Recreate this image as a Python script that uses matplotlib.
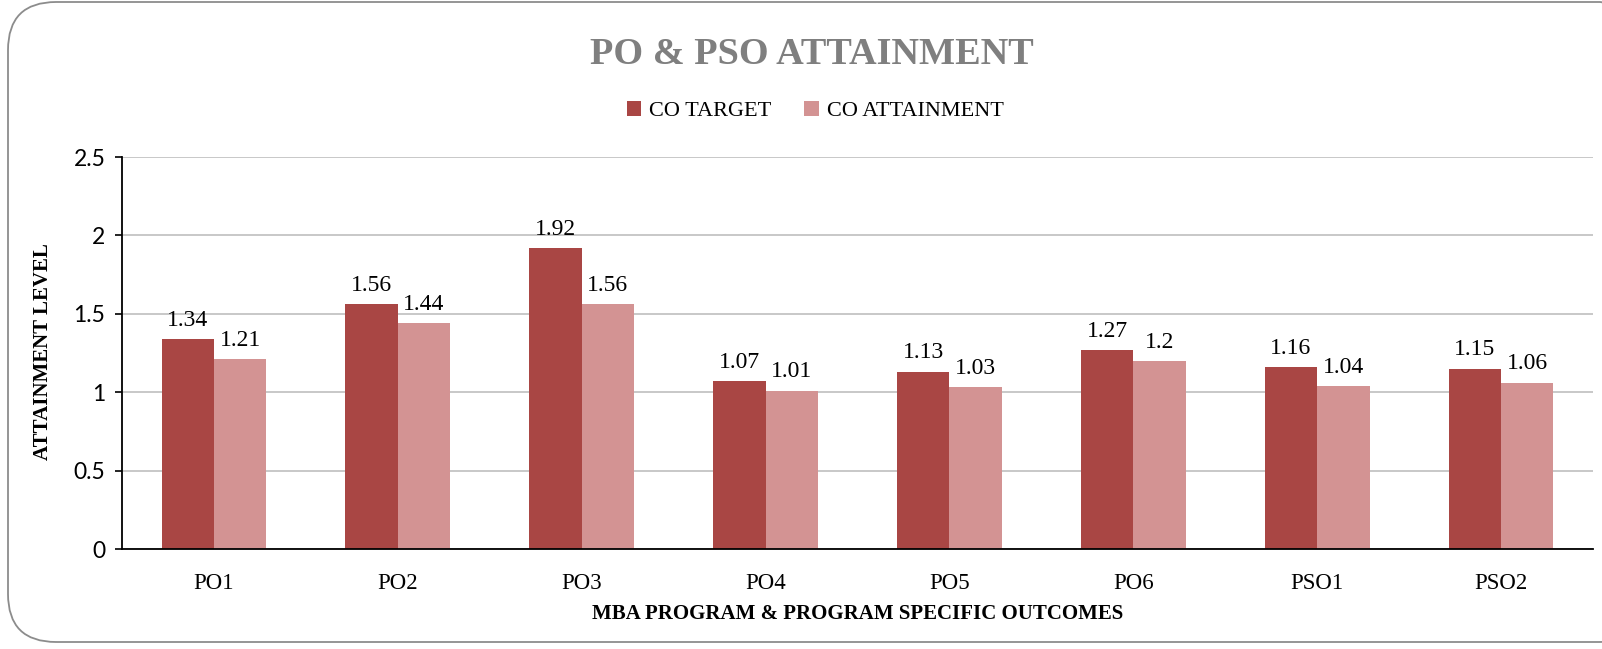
import matplotlib
matplotlib.use("Agg")
import matplotlib.pyplot as plt
from matplotlib.patches import FancyBboxPatch, Patch
import numpy as np

categories = ["PO1", "PO2", "PO3", "PO4", "PO5", "PO6", "PSO1", "PSO2"]
co_target = [1.34, 1.56, 1.92, 1.07, 1.13, 1.27, 1.16, 1.15]
co_attainment = [1.21, 1.44, 1.56, 1.01, 1.03, 1.2, 1.04, 1.06]
series_names = ["CO TARGET", "CO ATTAINMENT"]
yticks = [0, 0.5, 1, 1.5, 2, 2.5]
ytick_labels = ["0", "0.5", "1", "1.5", "2", "2.5"]

c_dark = "#A94644"
c_light = "#D39393"
serif = ["Liberation Serif", "DejaVu Serif"]
sans = ["Lato", "DejaVu Sans"]

W, H = 1602, 649
fig = plt.figure(figsize=(W / 100, H / 100), dpi=100)

# rounded chart border
border = FancyBboxPatch((8 / W, 7 / H), 1640 / W, 640 / H,
                        boxstyle="round,pad=0,rounding_size=0.03",
                        transform=fig.transFigure, fill=False,
                        edgecolor="#8C8C8C", linewidth=1.3,
                        mutation_aspect=W / H)
fig.patches.append(border)

ax = fig.add_axes([122 / W, 1 - 549 / H, (1593 - 122) / W, (549 - 157) / H])

x = np.arange(len(categories))
bw = 0.285
b1 = ax.bar(x - bw / 2, co_target, bw, color=c_dark, edgecolor="none", zorder=3)
b2 = ax.bar(x + bw / 2, co_attainment, bw, color=c_light, edgecolor="none", zorder=3)

for bars, vals in ((b1, co_target), (b2, co_attainment)):
    for rect, v in zip(bars, vals):
        ax.annotate(f"{v:g}", (rect.get_x() + rect.get_width() / 2, rect.get_height()),
                    xytext=(0, 6), textcoords="offset points", ha="center", va="bottom",
                    fontsize=17, family=serif, color="#000000")

ax.set_xlim(-0.5, len(categories) - 0.5)
ax.set_ylim(0, 2.5)
ax.set_yticks(yticks)
ax.set_yticklabels(ytick_labels, family=sans, fontsize=16.5)
ax.set_xticks(x)
ax.set_xticklabels(categories, family=serif, fontsize=16.5)
ax.tick_params(axis="x", length=0, pad=17)
ax.tick_params(axis="y", length=5, width=1.2, pad=7, direction="out")

ax.grid(axis="y", color="#C8C8C8", linewidth=1.4, zorder=0)
ax.set_axisbelow(True)
for s in ("top", "right"):
    ax.spines[s].set_visible(False)
ax.spines["left"].set_linewidth(1.3)
ax.spines["bottom"].set_linewidth(1.3)
ax.spines["bottom"].set_zorder(4)

fig.text(812 / W, 1 - 54 / H, "PO & PSO ATTAINMENT", ha="center", va="center",
         fontsize=27.5, fontweight="bold", family=serif, color="#7F7F7F")

fig.text(858 / W, 1 - 614 / H, "MBA PROGRAM & PROGRAM SPECIFIC OUTCOMES",
         ha="center", va="center", fontsize=15, fontweight="bold", family=serif)
fig.text(43 / W, 1 - 352 / H, "ATTAINMENT LEVEL", ha="center", va="center",
         rotation=90, fontsize=15, fontweight="bold", family=serif)

handles = [Patch(facecolor=c_dark), Patch(facecolor=c_light)]
fig.legend(handles, series_names, loc="center", bbox_to_anchor=(815 / W, 1 - 111 / H),
           ncol=2, frameon=False, prop={"family": serif, "size": 16},
           handlelength=0.65, handleheight=0.65, handletextpad=0.35, columnspacing=1.5)

fig.savefig("out.png", dpi=100)
